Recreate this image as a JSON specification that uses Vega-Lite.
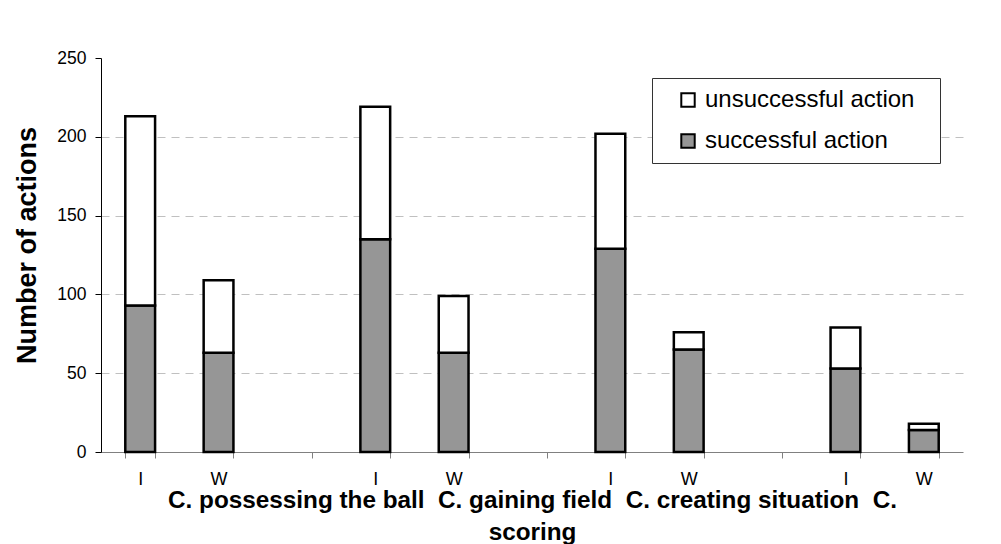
{
  "$schema": "https://vega.github.io/schema/vega-lite/v6.json",
  "autosize": "none",
  "width": 862,
  "height": 394,
  "padding": {"left": 101, "top": 58, "right": 38, "bottom": 92},
  "background": "white",
  "config": {
    "font": "Liberation Sans",
    "view": {"stroke": null}
  },
  "data": {
    "values": [
      {"slot": "I1", "status": "successful action", "n": 93},
      {"slot": "I1", "status": "unsuccessful action", "n": 120},
      {"slot": "W1", "status": "successful action", "n": 63},
      {"slot": "W1", "status": "unsuccessful action", "n": 46},
      {"slot": "I2", "status": "successful action", "n": 135},
      {"slot": "I2", "status": "unsuccessful action", "n": 84},
      {"slot": "W2", "status": "successful action", "n": 63},
      {"slot": "W2", "status": "unsuccessful action", "n": 36},
      {"slot": "I3", "status": "successful action", "n": 129},
      {"slot": "I3", "status": "unsuccessful action", "n": 73},
      {"slot": "W3", "status": "successful action", "n": 65},
      {"slot": "W3", "status": "unsuccessful action", "n": 11},
      {"slot": "I4", "status": "successful action", "n": 53},
      {"slot": "I4", "status": "unsuccessful action", "n": 26},
      {"slot": "W4", "status": "successful action", "n": 14},
      {"slot": "W4", "status": "unsuccessful action", "n": 4}
    ]
  },
  "mark": {"type": "bar", "stroke": "black", "strokeWidth": 2.5},
  "encoding": {
    "x": {
      "field": "slot",
      "type": "nominal",
      "sort": null,
      "scale": {
        "domain": ["I1", "W1", "g1", "I2", "W2", "g2", "I3", "W3", "g3", "I4", "W4"],
        "paddingInner": 0.62,
        "paddingOuter": 0.31
      },
      "axis": {
        "labelExpr": "indexof(['I1','I2','I3','I4'], datum.value) >= 0 ? 'I' : (indexof(['W1','W2','W3','W4'], datum.value) >= 0 ? 'W' : '')",
        "labelAngle": 0,
        "labelFontSize": 18,
        "labelColor": "black",
        "labelPadding": 12,
        "tickBand": "extent",
        "tickSize": 6,
        "tickColor": "#808080",
        "domainColor": "#808080",
        "grid": false,
        "title": ["C. possessing the ball\u00a0\u00a0C. gaining field\u00a0\u00a0C. creating situation\u00a0\u00a0C.", "scoring"],
        "titleFontSize": 24.3,
        "titleFontWeight": "bold",
        "titleColor": "black",
        "titleLineHeight": 32,
        "titlePadding": 0
      }
    },
    "y": {
      "field": "n",
      "type": "quantitative",
      "stack": "zero",
      "scale": {"domain": [0, 250], "nice": false},
      "axis": {
        "values": [0, 50, 100, 150, 200, 250],
        "title": "Number of actions",
        "titleFontSize": 27,
        "titleFontWeight": "bold",
        "titleColor": "black",
        "titlePadding": 15,
        "titleY": 187,
        "labelFontSize": 17.5,
        "labelColor": "black",
        "labelPadding": 9,
        "tickSize": 6,
        "tickColor": "black",
        "domainColor": "black",
        "grid": true,
        "gridColor": "#c0c0c0",
        "gridDash": [8, 6],
        "gridOpacity": {"condition": {"test": "datum.value === 250 || datum.value === 0", "value": 0}, "value": 1}
      }
    },
    "color": {
      "field": "status",
      "type": "nominal",
      "scale": {
        "domain": ["unsuccessful action", "successful action"],
        "range": ["white", "#969696"]
      },
      "legend": {
        "title": "\u00a0",
        "titleOrient": "right",
        "titlePadding": 16,
        "titleFontSize": 23,
        "orient": "none",
        "legendX": 551,
        "legendY": 20,
        "padding": 10,
        "strokeColor": "#333",
        "fillColor": "white",
        "labelFontSize": 24,
        "labelColor": "black",
        "labelLimit": 400,
        "labelOffset": 5,
        "rowPadding": 17,
        "symbolType": "square",
        "symbolSize": 180,
        "symbolOffset": 14,
        "symbolStrokeColor": "black",
        "symbolStrokeWidth": 2
      }
    },
    "order": {"field": "status", "sort": "ascending"}
  }
}
